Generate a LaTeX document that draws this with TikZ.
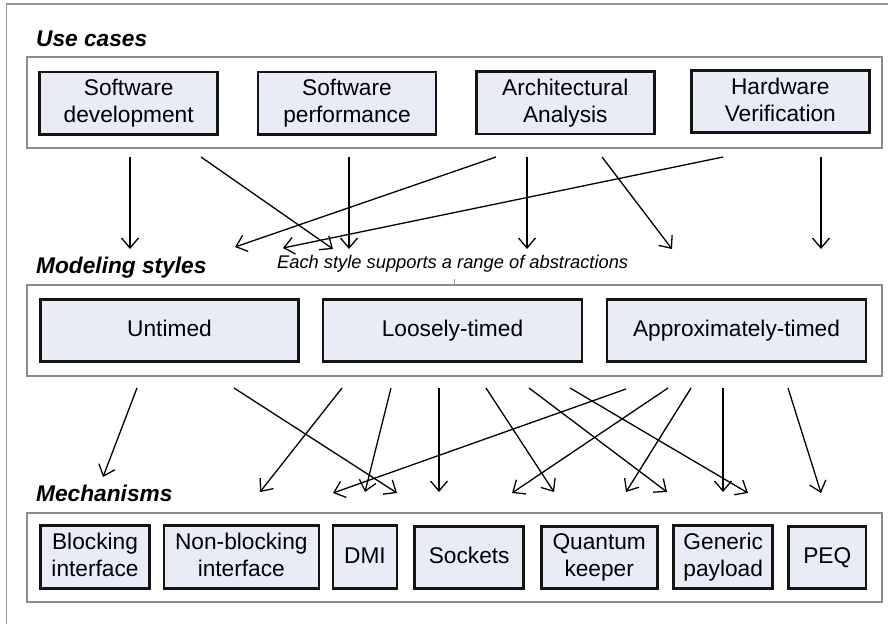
\documentclass[tikz,border=0pt]{standalone}
\usepackage{fontspec}
\setmainfont{Liberation Sans}
\usetikzlibrary{arrows.meta}
\definecolor{boxfill}{RGB}{231,236,247}
\definecolor{panelgray}{RGB}{140,140,140}
\definecolor{framegray}{RGB}{150,150,150}
% invisible rule that centres the capitals of a label in its box
\newcommand{\boxstrut}{\rule[-3.8pt]{0pt}{20pt}}
\begin{document}
\begin{tikzpicture}[x=1pt,y=-1pt,
  box/.style={draw=black!92, line width=2.6pt, fill=boxfill, align=center,
    font=\fontsize{22.7}{26.7}\selectfont, inner sep=0pt, minimum height=62.5pt,
    execute at begin node=\boxstrut, execute at end node=\boxstrut},
  panel/.style={draw=panelgray, line width=1.2pt, inner sep=0pt, minimum width=855pt},
  title/.style={anchor=base west, inner sep=0pt,
    font=\fontsize{22.7}{26.7}\selectfont\bfseries\itshape},
  arr/.style={line width=1.3pt, -{Straight Barb[length=10pt,width=17pt]}},
]
\useasboundingbox (0,0) rectangle (888,624);

% outer frame (top and left edges)
\coordinate (fbl) at (6.5,624);
\coordinate (ftl) at (6.5,4);
\coordinate (ftr) at (888,4);
\draw[framegray, line width=1.5pt] (fbl) -- (ftl) -- (ftr);

% ---- Use cases ----
\node[title] (uctitle) at (36,46) {Use cases};
\node[panel, minimum height=91pt] (ucpanel) at (454.5,102.5) {};
\node[box, minimum width=178pt] (sd) at (128.7,103.2) {Software\\development};
\node[box, minimum width=178pt] (sp) at (347,103.2) {Software\\performance};
\node[box, minimum width=178pt] (aa) at (565.3,102.9) {Architectural\\Analysis};
\node[box, minimum width=178pt] (hv) at (780.3,101.5) {Hardware\\Verification};

% ---- Modeling styles ----
\node[title] (mstitle) at (36,273) {Modeling styles};
\node[anchor=base west, inner sep=0pt, font=\fontsize{18.3}{22}\selectfont\itshape]
  (note) at (277,268) {Each style supports a range of abstractions};
\node[panel, minimum height=91pt] (mspanel) at (454.5,330.5) {};
\coordinate (tick) at (454,279);
\draw[framegray, line width=0.7pt] (tick) -- (tick |- mspanel.north);
\node[box, minimum width=258.5pt] (ut) at (169.5,330.5) {Untimed};
\node[box, minimum width=259pt] (lt) at (452.5,330.5) {Loosely-timed};
\node[box, minimum width=259pt] (at) at (736.5,330.5) {Approximately-timed};

% ---- Mechanisms ----
\node[title] (mctitle) at (36,501) {Mechanisms};
\node[panel, minimum height=89pt] (mcpanel) at (454.5,557.5) {};
\node[box, minimum width=109.5pt] (bi) at (95,557) {Blocking\\interface};
\node[box, minimum width=155pt] (nb) at (241.3,557) {Non-blocking\\interface};
\node[box, minimum width=64pt] (dmi) at (365,557) {DMI};
\node[box, minimum width=109pt] (so) at (469.2,557.5) {Sockets};
\node[box, minimum width=116pt] (qk) at (599.2,557.5) {Quantum\\keeper};
\node[box, minimum width=99pt] (gp) at (723.2,557) {Generic\\payload};
\node[box, minimum width=77.5pt] (peq) at (827.3,557.5) {PEQ};

% ---- use cases -> modeling styles ----
\foreach \n/\xa/\ya/\xb/\yb in {
  1/130/157/130/249, 2/201/157/333/249, 3/349/157/349/249,
  4/496/157/235/247, 5/723/157/283/248, 6/527/157/527/249,
  7/602/157/672/249, 8/821/157/821/249}{
  \coordinate (us\n) at (\xa,\ya);
  \coordinate (ue\n) at (\xb,\yb);
  \draw[arr] (us\n) -- (ue\n);
}

% ---- modeling styles -> mechanisms ----
\foreach \n/\xa/\ya/\xb/\yb in {
  a/137/388/103/477, b/234/388/397/493, c/342/388/260/492,
  d/391/388/365/492, e/439/388/439/492, f/626/389/333/493,
  g/486/388/554/492, h/529/388/667/492, i/570/388/748/493,
  j/668/388/512/493, k/691/388/626/492, l/723/388/723/492,
  m/788/388/821/493}{
  \coordinate (ms\n) at (\xa,\ya);
  \coordinate (me\n) at (\xb,\yb);
  \draw[arr] (ms\n) -- (me\n);
}
\end{tikzpicture}
\end{document}
